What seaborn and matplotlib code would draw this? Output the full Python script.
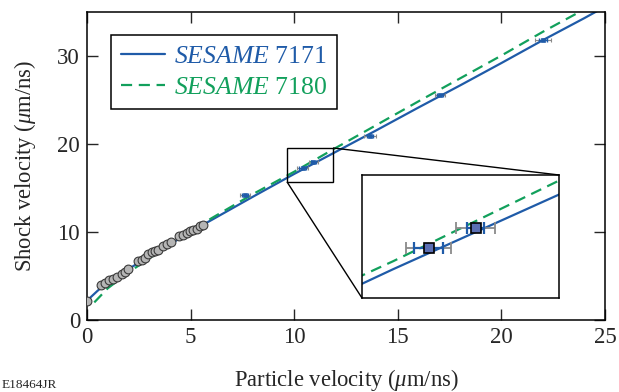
import numpy as np
import pandas as pd
import matplotlib
matplotlib.use("Agg")
import matplotlib.pyplot as plt
import seaborn as sns
from mpl_toolkits.axes_grid1.inset_locator import mark_inset

# ---- data ----
curve_up = [0.0, 0.5, 1, 2, 3, 4, 5, 5.5, 6, 8, 10, 12, 14, 16, 18, 20, 22, 24, 25]
sesame7171 = [2.2, 3.3, 4.3, 5.8, 7.2, 8.6, 10.0, 10.7, 11.35, 14.0, 16.6, 19.1, 21.6, 24.15, 26.65, 29.2, 31.8, 34.3, 35.6]
green_up = [0.35, 1, 2, 3, 4, 5, 5.5, 6, 8, 10, 12, 14, 16, 18, 20, 22, 24, 25]
sesame7180 = [2.0, 3.6, 5.4, 7.0, 8.6, 10.1, 10.8, 11.55, 14.3, 16.85, 19.55, 22.2, 24.85, 27.45, 30.05, 32.75, 35.3, 36.65]

low_up = [0.0, 0.66, 0.87, 1.08, 1.24, 1.43, 1.67, 1.83, 1.99, 2.48, 2.64, 2.8, 2.96,
          3.12, 3.28, 3.44, 3.68, 3.88, 4.04, 4.46, 4.65, 4.81, 4.97, 5.13, 5.29, 5.45, 5.58]
low_us = [2.17, 4.0, 4.26, 4.49, 4.64, 4.94, 5.25, 5.51, 5.78, 6.65, 6.84, 6.99, 7.49,
          7.68, 7.79, 7.91, 8.36, 8.63, 8.82, 9.5, 9.69, 9.88, 10.07, 10.26, 10.34, 10.64, 10.76]

high_up = [7.63, 10.4, 10.93, 13.66, 17.04, 22.0]
high_us = [14.2, 17.25, 17.9, 20.9, 25.6, 31.8]
high_err_blue = [0.15, 0.16, 0.10, 0.15, 0.15, 0.2]
high_err_grey = [0.25, 0.25, 0.22, 0.3, 0.25, 0.4]

xticks = [0, 5, 10, 15, 20, 25]
yticks = [0, 10, 20, 30]

BLUE = "#1f5ba8"
GREEN = "#12a05c"
SQ = "#5b6fb4"

sns.set_style("ticks")
plt.rcParams["font.family"] = ["Liberation Serif", "DejaVu Serif"]
plt.rcParams["mathtext.fontset"] = "custom"
plt.rcParams["mathtext.rm"] = "Liberation Serif"
plt.rcParams["mathtext.it"] = "Liberation Serif:italic"

fig = plt.figure(figsize=(6.19, 3.92), dpi=100)
ax = fig.add_axes([0.1406, 0.1837, 0.9774 - 0.1406, 0.9694 - 0.1837])

df7171 = pd.DataFrame({"up": curve_up, "us": sesame7171})
df7180 = pd.DataFrame({"up": green_up, "us": sesame7180})
dflow = pd.DataFrame({"up": low_up, "us": low_us})


def draw(a, big=False):
    sns.lineplot(data=df7171, x="up", y="us", ax=a, color=BLUE, lw=1.6,
                 label=r"$\mathit{SESAME}$ 7171", sort=True)
    sns.lineplot(data=df7180, x="up", y="us", ax=a, color=GREEN, lw=1.6,
                 dashes=False, label=r"$\mathit{SESAME}$ 7180")
    a.lines[-1].set_dashes([5, 3])
    sns.scatterplot(data=dflow, x="up", y="us", ax=a, s=40, color="#b5b5b5",
                    edgecolor="#3a3a3a", linewidth=0.8, zorder=4)
    a.errorbar(high_up, high_us, xerr=high_err_grey, fmt="none", ecolor="#8a8a8a",
               elinewidth=1.3 if big else 0.8, capsize=4 if big else 1.5,
               capthick=1.3 if big else 0.8, zorder=5)
    a.errorbar(high_up, high_us, xerr=high_err_blue, fmt="none", ecolor=BLUE,
               elinewidth=1.6 if big else 1.0, capsize=4 if big else 1.5,
               capthick=1.6 if big else 1.0, zorder=6)
    a.plot(high_up, high_us, ls="none", marker="s", ms=7.5 if big else 3,
           mfc=SQ if big else BLUE, mec="black" if big else BLUE,
           mew=1.2 if big else 0.5, zorder=7)


draw(ax)
ax.set_xlim(0, 25)
ax.set_ylim(0, 35)
ax.set_xticks(xticks)
ax.set_yticks(yticks)
ax.tick_params(direction="in", length=8, width=1.0, top=True, right=True,
               labelsize=16.5, pad=5)
for s in ax.spines.values():
    s.set_visible(True)
    s.set_linewidth(1.1)
    s.set_color("black")
ax.set_xlabel(r"Particle velocity ($\mu$m/ns)", fontsize=16.3, labelpad=14)
ax.set_ylabel(r"Shock velocity ($\mu$m/ns)", fontsize=16.3, labelpad=14)

leg = ax.legend(loc="upper left", bbox_to_anchor=(0.046, 0.925), fontsize=18.5,
                frameon=True, fancybox=False, edgecolor="black", handlelength=1.7,
                handletextpad=0.35, borderpad=0.4, labelspacing=0.3,
                borderaxespad=0.0)
leg.get_frame().set_linewidth(1.1)
leg.get_frame().set_alpha(1)
for txt, col in zip(leg.get_texts(), [BLUE, GREEN]):
    txt.set_color(col)

# inset
axins = fig.add_axes([0.5848, 0.2398, 0.3183, 0.3138])
draw(axins, big=True)
if axins.get_legend():
    axins.get_legend().remove()
axins.set_xlim(9.65, 11.87)
axins.set_ylim(15.7, 19.55)
axins.set_xticks([])
axins.set_yticks([])
axins.set_xlabel("")
axins.set_ylabel("")
for s in axins.spines.values():
    s.set_visible(True)
    s.set_linewidth(1.1)
    s.set_color("black")
mark_inset(ax, axins, loc1=1, loc2=3, fc="none", ec="black", lw=1.0, zorder=8)

fig.text(0.003, 0.003, "E18464JR", fontsize=9.5, va="bottom", ha="left")

fig.savefig("out.png", dpi=100)
